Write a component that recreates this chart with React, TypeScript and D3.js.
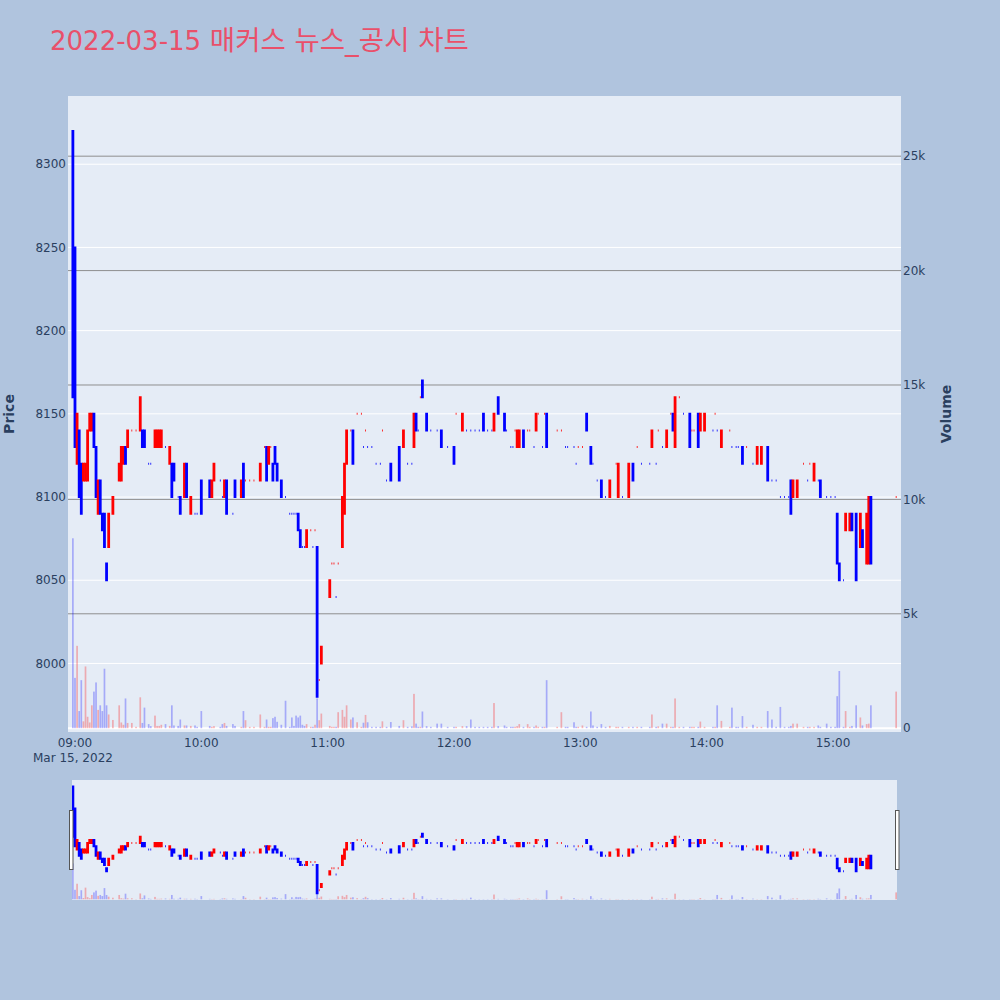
import React from "react";
import * as d3 from "d3";

const chartTitle = "2022-03-15 매커스 뉴스_공시 차트";
const tradeDate = "2022-03-15";

const times = [
  "08:59","09:00","09:01","09:02","09:03","09:04","09:05","09:06","09:07","09:08",
  "09:09","09:10","09:11","09:12","09:13","09:14","09:15","09:16","09:18","09:21",
  "09:22","09:23","09:24","09:25","09:27","09:29","09:31","09:32","09:33","09:35",
  "09:36","09:38","09:39","09:40","09:41","09:43","09:45","09:46","09:47","09:49",
  "09:50","09:52","09:53","09:55","09:57","09:58","10:00","10:04","10:05","10:06",
  "10:09","10:10","10:11","10:12","10:15","10:16","10:19","10:20","10:21","10:23",
  "10:25","10:28","10:30","10:31","10:32","10:33","10:34","10:35","10:36","10:38",
  "10:40","10:42","10:43","10:44","10:45","10:46","10:47","10:48","10:49","10:50",
  "10:52","10:53","10:54","10:55","10:56","10:57","11:01","11:02","11:03","11:04",
  "11:05","11:07","11:08","11:09","11:11","11:12","11:14","11:16","11:17","11:18",
  "11:19","11:21","11:23","11:25","11:26","11:28","11:30","11:34","11:36","11:38",
  "11:40","11:41","11:42","11:43","11:44","11:45","11:47","11:49","11:52","11:54",
  "11:57","12:00","12:01","12:04","12:06","12:08","12:10","12:12","12:14","12:16",
  "12:18","12:19","12:21","12:24","12:25","12:27","12:28","12:29","12:30","12:31",
  "12:33","12:35","12:36","12:38","12:39","12:40","12:42","12:43","12:44","12:49",
  "12:51","12:53","12:54","12:57","12:58","12:59","13:01","13:03","13:05","13:06",
  "13:08","13:10","13:12","13:14","13:17","13:18","13:20","13:23","13:25","13:27",
  "13:29","13:33","13:34","13:36","13:37","13:39","13:41","13:43","13:44","13:45",
  "13:47","13:49","13:52","13:53","13:54","13:56","13:57","13:59","14:03","14:04",
  "14:05","14:07","14:11","14:12","14:14","14:15","14:17","14:19","14:22","14:24",
  "14:26","14:29","14:31","14:33","14:35","14:37","14:39","14:40","14:41","14:43",
  "14:46","14:48","14:49","14:51","14:53","14:54","14:57","14:59","15:01","15:02",
  "15:03","15:05","15:06","15:08","15:09","15:11","15:13","15:14","15:16","15:17",
  "15:18","15:30",
];

const opens = [
  8320,8250,8120,8140,8120,8110,8110,8110,8140,8140,
  8150,8130,8090,8110,8090,8090,8060,8070,8090,8110,
  8110,8120,8130,8130,8140,8140,8140,8140,8140,8120,
  8120,8130,8130,8130,8130,8130,8120,8120,8120,8100,
  8100,8100,8120,8090,8090,8090,8110,8110,8100,8110,
  8110,8100,8100,8110,8090,8110,8100,8120,8110,8110,
  8110,8110,8130,8130,8120,8130,8120,8130,8120,8110,
  8100,8090,8090,8090,8090,8090,8080,8070,8070,8070,
  8080,8070,8080,8070,7990,8000,8040,8060,8060,8040,
  8060,8070,8090,8120,8140,8140,8150,8150,8130,8140,
  8130,8130,8120,8120,8140,8110,8120,8130,8130,8120,
  8120,8130,8150,8140,8160,8170,8150,8140,8140,8140,
  8130,8130,8150,8140,8140,8140,8140,8140,8150,8140,
  8140,8140,8160,8150,8140,8130,8130,8140,8130,8130,
  8140,8140,8140,8130,8140,8150,8130,8150,8150,8140,
  8140,8130,8130,8130,8120,8130,8130,8150,8130,8120,
  8110,8110,8100,8100,8120,8100,8100,8100,8120,8130,
  8120,8120,8130,8120,8140,8130,8130,8150,8150,8130,
  8160,8150,8150,8140,8140,8150,8140,8140,8140,8150,
  8140,8130,8140,8130,8130,8130,8130,8130,8120,8120,
  8120,8130,8110,8110,8100,8100,8100,8110,8100,8100,
  8120,8110,8120,8110,8110,8110,8100,8100,8100,8090,
  8060,8050,8080,8080,8090,8090,8070,8080,8060,8060,
  8100,8100,
];

const highs = [
  8320,8250,8150,8140,8120,8120,8120,8140,8150,8150,
  8150,8130,8110,8110,8090,8090,8060,8090,8100,8120,
  8130,8130,8130,8140,8140,8140,8160,8140,8140,8120,
  8120,8140,8140,8140,8140,8130,8130,8120,8120,8100,
  8100,8120,8120,8100,8090,8090,8110,8110,8110,8120,
  8110,8100,8110,8110,8090,8110,8110,8120,8110,8110,
  8110,8120,8130,8130,8130,8130,8120,8130,8120,8110,
  8100,8090,8090,8090,8090,8090,8080,8070,8070,8080,
  8080,8070,8080,8070,7990,8010,8050,8060,8060,8040,
  8060,8100,8120,8140,8140,8140,8150,8150,8130,8140,
  8130,8130,8120,8120,8140,8110,8120,8130,8140,8120,
  8120,8150,8150,8140,8160,8170,8150,8140,8140,8140,
  8130,8130,8150,8150,8140,8140,8140,8140,8150,8140,
  8140,8150,8160,8150,8140,8130,8130,8140,8140,8140,
  8140,8140,8140,8130,8150,8150,8130,8150,8150,8140,
  8140,8130,8130,8130,8120,8130,8130,8150,8130,8120,
  8110,8110,8100,8110,8120,8120,8100,8120,8120,8130,
  8120,8120,8140,8120,8140,8130,8140,8150,8150,8160,
  8160,8150,8150,8140,8140,8150,8150,8150,8140,8150,
  8140,8140,8140,8130,8130,8130,8130,8130,8120,8130,
  8130,8130,8110,8110,8100,8100,8100,8110,8110,8110,
  8120,8110,8120,8120,8110,8110,8100,8100,8100,8090,
  8060,8050,8090,8090,8090,8090,8090,8080,8090,8100,
  8100,8100,
];

const lows = [
  8160,8130,8120,8100,8090,8110,8110,8110,8140,8140,
  8130,8100,8090,8090,8080,8070,8050,8070,8090,8110,
  8110,8120,8120,8130,8140,8140,8140,8130,8130,8120,
  8120,8130,8130,8130,8130,8130,8120,8100,8110,8100,
  8090,8100,8100,8090,8090,8090,8090,8100,8100,8110,
  8110,8100,8100,8090,8090,8100,8100,8100,8110,8110,
  8110,8110,8130,8110,8120,8130,8110,8120,8110,8100,
  8100,8090,8090,8090,8090,8080,8070,8070,8070,8070,
  8080,8070,8080,7980,7990,8000,8040,8060,8060,8040,
  8060,8070,8090,8120,8140,8120,8150,8150,8130,8140,
  8130,8130,8120,8120,8140,8110,8110,8110,8130,8120,
  8120,8130,8140,8140,8160,8160,8140,8140,8140,8130,
  8130,8120,8150,8140,8140,8140,8140,8140,8140,8140,
  8140,8140,8150,8140,8140,8130,8130,8140,8130,8130,
  8130,8140,8140,8130,8140,8150,8130,8150,8130,8140,
  8140,8130,8130,8130,8120,8130,8130,8140,8120,8120,
  8110,8100,8100,8100,8120,8100,8100,8100,8110,8130,
  8120,8120,8130,8120,8140,8130,8130,8150,8140,8130,
  8160,8150,8130,8140,8140,8130,8140,8140,8140,8150,
  8140,8130,8140,8130,8130,8130,8120,8130,8120,8120,
  8120,8110,8110,8110,8100,8100,8100,8090,8100,8100,
  8120,8110,8120,8110,8110,8100,8100,8100,8100,8060,
  8050,8050,8080,8080,8080,8050,8070,8070,8060,8060,
  8060,8100,
];

const closes = [
  8160,8130,8150,8100,8090,8120,8120,8140,8150,8150,
  8130,8100,8110,8090,8080,8070,8050,8090,8100,8120,
  8130,8130,8120,8140,8140,8140,8160,8130,8130,8120,
  8120,8140,8140,8140,8140,8130,8130,8100,8110,8100,
  8090,8120,8100,8100,8090,8090,8090,8100,8110,8120,
  8110,8100,8110,8090,8090,8100,8110,8100,8110,8110,
  8110,8120,8130,8110,8130,8130,8110,8120,8110,8100,
  8100,8090,8090,8090,8090,8080,8070,8070,8070,8080,
  8080,8070,8080,7980,7990,8010,8050,8060,8060,8040,
  8060,8100,8120,8140,8140,8120,8150,8150,8130,8140,
  8130,8130,8120,8120,8140,8110,8110,8110,8140,8120,
  8120,8150,8140,8140,8160,8160,8140,8140,8140,8130,
  8130,8120,8150,8150,8140,8140,8140,8140,8140,8140,
  8140,8150,8150,8140,8140,8130,8130,8140,8140,8140,
  8130,8140,8140,8130,8150,8150,8130,8150,8130,8140,
  8140,8130,8130,8130,8120,8130,8130,8140,8120,8120,
  8110,8100,8100,8110,8120,8120,8100,8120,8110,8130,
  8120,8120,8140,8120,8140,8130,8140,8150,8140,8160,
  8160,8150,8130,8140,8140,8130,8150,8150,8140,8150,
  8140,8140,8140,8130,8130,8130,8120,8130,8120,8130,
  8130,8110,8110,8110,8100,8100,8100,8090,8110,8110,
  8120,8110,8120,8120,8110,8100,8100,8100,8100,8060,
  8050,8050,8090,8090,8080,8050,8090,8070,8090,8100,
  8060,8100,
];

const volumes = [
  8300,2200,3600,750,2100,300,2700,500,250,1000,
  1600,2000,800,1000,750,2600,1000,600,360,1000,
  250,150,1300,230,230,60,1350,230,900,180,
  90,550,100,100,150,180,100,1000,120,100,
  380,120,120,100,120,60,750,100,60,90,
  60,180,230,100,180,100,60,750,350,60,
  60,600,60,380,60,60,440,500,280,150,
  1200,60,470,100,550,470,550,150,100,180,
  60,60,150,1300,350,640,100,60,60,60,
  700,800,500,1000,380,470,260,60,240,580,
  260,60,60,60,300,60,270,100,350,60,
  80,1500,200,60,60,730,90,60,200,200,
  60,60,60,90,90,380,60,60,60,60,
  60,1100,90,120,60,60,60,60,90,180,
  60,180,60,60,120,60,60,60,2100,60,
  700,60,60,260,60,60,120,60,730,120,
  60,180,60,100,60,60,60,60,60,60,
  60,60,600,60,80,200,200,60,60,1300,
  60,60,60,60,60,60,290,60,60,60,
  1000,320,60,900,60,60,530,60,150,60,
  60,750,380,60,930,60,60,100,200,200,
  60,60,60,60,120,60,200,60,60,1400,
  2500,60,750,60,100,1000,470,120,180,200,
  1000,1600,
];

const priceTicks = [8000, 8050, 8100, 8150, 8200, 8250, 8300];
const volumeTicks = [0, 5000, 10000, 15000, 20000, 25000];

const FONT = "'DejaVu Sans', 'Noto Sans CJK KR', verdana, arial, sans-serif";
const TICK_COLOR = "#2a3f5f";
const UP = "#ff0000";
const DOWN = "#0000ff";

const plot = { left: 68, right: 901, top: 96, bottom: 732 };
const slider = { left: 72, right: 897, top: 780, bottom: 900 };

const parse = d3.timeParse("%Y-%m-%d %H:%M:%S");
const dates = times.map((t) => parse(`${tradeDate} ${t}:00`) as Date);

// Plotly-like direction rule
const increasing: boolean[] = (() => {
  const out: boolean[] = [];
  let prev: number | null = null;
  let up = true;
  closes.forEach((c, i) => {
    const o = opens[i];
    if (c === o) {
      if (prev !== null && c !== prev) up = c > prev;
    } else up = c > o;
    out.push(up);
    prev = c;
  });
  return out;
})();

function candlePath(i: number, x: (d: Date) => number, y: (v: number) => number) {
  const cx = x(dates[i]);
  const hw = 0.4;
  const yo = y(opens[i]);
  const yc = y(closes[i]);
  const top = Math.min(yo, yc);
  const bot = Math.max(yo, yc);
  return `M${cx - hw},${top}H${cx + hw}V${bot}H${cx - hw}Z M${cx},${top}V${y(highs[i])} M${cx},${bot}V${y(lows[i])}`;
}

function Series({ x, yP, yV }: { x: (d: Date) => number; yP: (v: number) => number; yV: (v: number) => number }) {
  const bw = 1.7;
  return (
    <g>
      {volumes.map((v, i) => (
        <rect
          key={`v${i}`}
          x={x(dates[i]) - bw / 2}
          y={yV(v)}
          width={bw}
          height={Math.max(0, yV(0) - yV(v))}
          fill={increasing[i] ? "rgba(255,0,0,0.28)" : "rgba(0,0,255,0.28)"}
        />
      ))}
      {dates.map((d, i) => (
        <path
          key={`c${i}`}
          d={candlePath(i, x, yP)}
          fill={increasing[i] ? UP : DOWN}
          stroke={increasing[i] ? UP : DOWN}
          strokeWidth={2}
        />
      ))}
    </g>
  );
}

export default function App() {
  const x = d3
    .scaleTime()
    .domain([parse(`${tradeDate} 08:56:41`) as Date, parse(`${tradeDate} 15:32:18`) as Date])
    .range([plot.left, plot.right]);
  const priceDomain = [7958.8, 8341];
  const volDomain = [-166, 27630];
  const yP = d3.scaleLinear().domain(priceDomain).range([plot.bottom, plot.top]);
  const yV = d3.scaleLinear().domain(volDomain).range([plot.bottom, plot.top]);
  const yPS = d3.scaleLinear().domain(priceDomain).range([slider.bottom, slider.top]);
  const yVS = d3.scaleLinear().domain(volDomain).range([slider.bottom, slider.top]);

  const xTicks = x.ticks(d3.timeHour.every(1) as any);
  const fmtTime = d3.timeFormat("%H:%M");
  const fmtDate = d3.timeFormat("%b %-d, %Y");
  const fmtVol = d3.format("~s");

  const splitAt = chartTitle.indexOf(" ");
  const titleHead = chartTitle.slice(0, splitAt);
  const titleTail = chartTitle.slice(splitAt);

  return (
    <svg
      width={1000}
      height={1000}
      style={{ position: "absolute", left: 0, top: 0, fontFamily: FONT }}
    >
      <defs>
        <clipPath id="plotClip">
          <rect x={plot.left} y={plot.top} width={plot.right - plot.left} height={plot.bottom - plot.top} />
        </clipPath>
        <clipPath id="sliderClip">
          <rect x={slider.left} y={slider.top} width={slider.right - slider.left} height={slider.bottom - slider.top} />
        </clipPath>
      </defs>
      <rect x={0} y={0} width={1000} height={1000} fill="#b0c4de" />
      <text x={50} y={50} fontSize={26} fill="#e9506a">
        <tspan>{titleHead}</tspan>
        <tspan fontSize={27.5}>{titleTail}</tspan>
      </text>

      <rect x={plot.left} y={plot.top} width={plot.right - plot.left} height={plot.bottom - plot.top} fill="#e5ecf6" />
      {priceTicks.map((t) => (
        <line key={`pg${t}`} x1={plot.left} x2={plot.right} y1={yP(t)} y2={yP(t)} stroke="#ffffff" strokeWidth={1} />
      ))}
      {volumeTicks.filter((t) => t > 0).map((t) => (
        <line key={`vg${t}`} x1={plot.left} x2={plot.right} y1={yV(t)} y2={yV(t)} stroke="#8f8f8f" strokeWidth={1} />
      ))}
      <line x1={plot.left} x2={plot.right} y1={yV(0)} y2={yV(0)} stroke="#ffffff" strokeWidth={2} />

      <g clipPath="url(#plotClip)">
        <Series x={x} yP={yP} yV={yV} />
      </g>

      {priceTicks.map((t) => (
        <text key={`pt${t}`} x={66} y={yP(t)} dy="0.35em" textAnchor="end" fontSize={12} fill={TICK_COLOR}>
          {t}
        </text>
      ))}
      {volumeTicks.map((t) => (
        <text key={`vt${t}`} x={903} y={yV(t)} dy="0.35em" textAnchor="start" fontSize={12} fill={TICK_COLOR}>
          {fmtVol(t)}
        </text>
      ))}
      {xTicks.map((t, i) => (
        <g key={`xt${i}`}>
          <text x={x(t)} y={746.5} textAnchor="middle" fontSize={12} fill={TICK_COLOR}>
            {fmtTime(t)}
          </text>
          {i === 0 && (
            <text x={x(t) - 2} y={762} textAnchor="middle" fontSize={12} fill={TICK_COLOR}>
              {fmtDate(t)}
            </text>
          )}
        </g>
      ))}
      <text transform={`translate(14,414) rotate(-90)`} textAnchor="middle" fontSize={14} fontWeight="bold" fill={TICK_COLOR}>
        Price
      </text>
      <text transform={`translate(951,414) rotate(-90)`} textAnchor="middle" fontSize={14} fontWeight="bold" fill={TICK_COLOR}>
        Volume
      </text>

      <rect x={slider.left} y={slider.top} width={slider.right - slider.left} height={slider.bottom - slider.top} fill="#e5ecf6" />
      <g clipPath="url(#sliderClip)">
        <Series x={x} yP={yPS} yV={yVS} />
      </g>
      <rect x={69.5} y={810.5} width={3.5} height={59} fill="#ffffff" stroke="#555" strokeWidth={1} />
      <rect x={895.5} y={810.5} width={3.5} height={59} fill="#ffffff" stroke="#555" strokeWidth={1} />
    </svg>
  );
}
